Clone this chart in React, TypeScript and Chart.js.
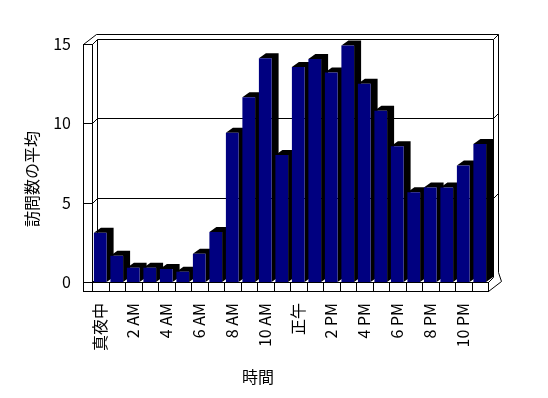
import React, { useEffect, useRef } from 'react';
import { Chart, registerables } from 'chart.js';

Chart.register(...registerables);

const hours = [
  '0:00', '1:00', '2:00', '3:00', '4:00', '5:00', '6:00', '7:00',
  '8:00', '9:00', '10:00', '11:00', '12:00', '13:00', '14:00', '15:00',
  '16:00', '17:00', '18:00', '19:00', '20:00', '21:00', '22:00', '23:00',
];
const tickLabels = ['真夜中', '2 AM', '4 AM', '6 AM', '8 AM', '10 AM', '正午', '2 PM', '4 PM', '6 PM', '8 PM', '10 PM'];
const visits = [
  3.1, 1.65, 0.9, 0.9, 0.82, 0.65, 1.78, 3.15,
  9.4, 11.65, 14.1, 8.0, 13.55, 14.05, 13.2, 14.9,
  12.5, 10.8, 8.55, 5.65, 5.95, 5.95, 7.35, 8.7,
];
const yTicks = [0, 5, 10, 15];
const yTitle = '訪問数の平均';
const xTitle = '時間';

const FONT = '"Noto Sans CJK JP", "Noto Sans", sans-serif';
const NAVY = '#000080';

const frame3d = {
  id: 'frame3d',
  beforeDatasetsDraw(chart: any) {
    const { ctx, chartArea: a, scales } = chart;
    const xs = scales.x;
    const ys = scales.y;
    const L = a.left, R = a.right, T = a.top, B = a.bottom;
    const dx = 5, dy = 5, th = 9, ox = 13, oy = 10, wt = 5;
    const p = (v: number) => Math.round(v) + 0.5;
    ctx.save();
    ctx.strokeStyle = '#000';
    ctx.lineWidth = 1;
    const line = (x1: number, y1: number, x2: number, y2: number) => {
      ctx.beginPath();
      ctx.moveTo(p(x1), p(y1));
      ctx.lineTo(p(x2), p(y2));
      ctx.stroke();
    };
    // back wall front face
    line(L + dx, T - dy, R + dx, T - dy);
    line(R + dx, T - dy, R + dx, B - dy);
    line(L + dx, T - dy, L + dx, B - dy);
    // back wall outer
    line(L - th + ox, T - oy, R + dx + wt, T - oy);
    line(R + dx + wt, T - oy, R + dx + wt, B - dy - wt);
    line(R + dx, T - dy, R + dx + wt, T - dy - wt);
    // left wall
    ctx.strokeRect(p(L - th), p(T), Math.round(th), Math.round(B + th - T));
    line(L - th, T, L - th + ox, T - oy);
    line(L, T, L + dx, T - dy);
    line(L, B, L + dx, B - dy);
    // floor
    ctx.strokeRect(p(L - th), p(B), Math.round(R - L + th), Math.round(th));
    for (let i = 1; i < hours.length; i++) {
      const bx = (xs.getPixelForValue(i - 1) + xs.getPixelForValue(i)) / 2;
      line(bx, B, bx, B + th);
    }
    line(R, B, R + dx, B - dy);
    line(R, B + th, R + ox, B + th - oy);
    line(R + ox, B + th - oy, R + dx + wt, B - dy - wt);
    // gridlines
    yTicks.forEach((v) => {
      if (v <= 0 || v >= 15) return;
      const py = ys.getPixelForValue(v);
      line(L - th, py, L, py);
      line(L, py, L + dx, py - dy);
      line(L + dx, py - dy, R + dx, py - dy);
      line(R + dx, py - dy, R + dx + wt, py - dy - wt);
    });
    // bar extrusions
    const bdx = 7, bdy = 5;
    const meta = chart.getDatasetMeta(0);
    ctx.fillStyle = '#000';
    meta.data.forEach((bar: any) => {
      const { x, y, base, width } = bar.getProps(['x', 'y', 'base', 'width'], true);
      const l = x - width / 2, r = x + width / 2;
      ctx.beginPath();
      ctx.moveTo(l, y);
      ctx.lineTo(l + bdx, y - bdy);
      ctx.lineTo(r + bdx, y - bdy);
      ctx.lineTo(r + bdx, base - bdy);
      ctx.lineTo(r, base);
      ctx.lineTo(r, y);
      ctx.closePath();
      ctx.fill();
    });
    ctx.restore();
  },
  afterDraw(chart: any) {
    const { ctx, chartArea: a } = chart;
    ctx.save();
    ctx.fillStyle = '#000';
    ctx.font = `16px ${FONT}`;
    ctx.textAlign = 'center';
    ctx.textBaseline = 'middle';
    ctx.fillText(xTitle, a.left + 166, a.bottom + 95);
    ctx.translate(32, a.top + 135);
    ctx.rotate(-Math.PI / 2);
    ctx.fillText(yTitle, 0, 0);
    ctx.restore();
  },
};

export default function App() {
  const ref = useRef<HTMLCanvasElement | null>(null);
  useEffect(() => {
    if (!ref.current) return;
    const chart = new Chart(ref.current, {
      type: 'bar',
      data: {
        labels: hours,
        datasets: [
          {
            data: visits,
            backgroundColor: NAVY,
            borderWidth: 0,
            barPercentage: 0.77,
            categoryPercentage: 1,
          },
        ],
      },
      options: {
        responsive: false,
        animation: false,
        layout: { padding: { top: 44, right: 60, left: 0, bottom: 0 } },
        plugins: { legend: { display: false }, tooltip: { enabled: false }, title: { display: false } },
        scales: {
          x: {
            grid: { display: false, drawTicks: false },
            border: { display: false },
            ticks: {
              autoSkip: false,
              maxRotation: 90,
              minRotation: 90,
              padding: 21,
              color: '#000',
              font: { family: FONT, size: 16 },
              callback: (_v: any, i: number) => (i % 2 === 0 ? tickLabels[i / 2] : ''),
            },
            afterFit: (s: any) => {
              s.height = 116;
            },
          },
          y: {
            min: 0,
            max: 15,
            grid: { display: false, drawTicks: false },
            border: { display: false },
            ticks: {
              stepSize: 5,
              padding: 21,
              color: '#000',
              font: { family: FONT, size: 16 },
            },
            afterFit: (s: any) => {
              s.width = 92;
            },
          },
        },
      },
      plugins: [frame3d],
    });
    return () => chart.destroy();
  }, []);
  return (
    <div style={{ position: 'absolute', left: 0, top: 0, width: 548, height: 398, background: '#fff' }}>
      <canvas ref={ref} width={548} height={398} style={{ display: 'block' }} />
    </div>
  );
}
